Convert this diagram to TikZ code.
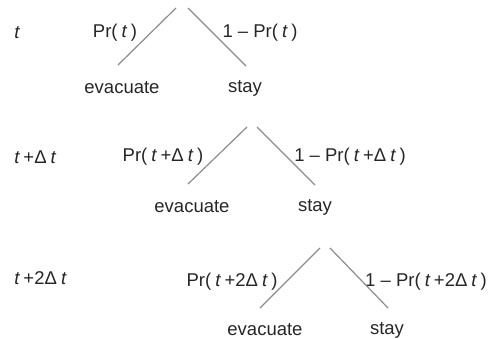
\documentclass[tikz,border=0pt]{standalone}
\usepackage{fontspec}
\setmainfont{Liberation Sans}
\newcommand{\ti}{\hspace{0.22em}{\itshape t}\hspace{0.22em}}

\begin{document}
\begin{tikzpicture}[x=1pt, y=-1pt,
		every node/.style={font=\fontsize{18.5}{22}\selectfont, text=black!85, inner sep=0pt},
		branch/.style={draw=black!45, line width=1.2pt}]
		\useasboundingbox (0,0) rectangle (489,339);
		
		% time labels
		\node[anchor=west] (T1) at (10, 33) {\ti};
		\node[anchor=west] (T2) at (10, 157) {\ti+Δ\ti};
		\node[anchor=west] (T3) at (10, 278) {\ti+2Δ\ti};
		
		% first step
		\coordinate (A1) at (176, 8);
		\coordinate (B1) at (188, 8);
		\coordinate (L1) at (118, 65);
		\coordinate (R1) at (246, 66);
		\node (P1) at (115, 33) {Pr(\ti)};
		\node (Q1) at (260, 33) {1 – Pr(\ti)};
		\node (E1) at (122, 88) {evacuate};
		\node (S1) at (245, 88) {stay};
		
		% second step
		\coordinate (A2) at (247, 127);
		\coordinate (B2) at (257, 127);
		\coordinate (L2) at (188, 184);
		\coordinate (R2) at (315, 185);
		\node (P2) at (163, 157) {Pr(\ti+Δ\ti)};
		\node (Q2) at (350, 157) {1 – Pr(\ti+Δ\ti)};
		\node (E2) at (192, 207) {evacuate};
		\node (S2) at (315, 207) {stay};
		
		% third step
		\coordinate (A3) at (320, 248);
		\coordinate (B3) at (330, 248);
		\coordinate (L3) at (260, 308);
		\coordinate (R3) at (388, 308);
		\node (P3) at (232, 282) {Pr(\ti+2Δ\ti)};
		\node (Q3) at (426, 282) {1 – Pr(\ti+2Δ\ti)};
		\node (E3) at (265, 330) {evacuate};
		\node (S3) at (387, 330) {stay};
		
		\path[branch](A1) edge (L1);
		\path[branch](B1) edge (R1);
		\path[branch](A2) edge (L2);
		\path[branch](B2) edge (R2);
		\path[branch](A3) edge (L3);
		\path[branch](B3) edge (R3);
		
	\end{tikzpicture}
\end{document}
